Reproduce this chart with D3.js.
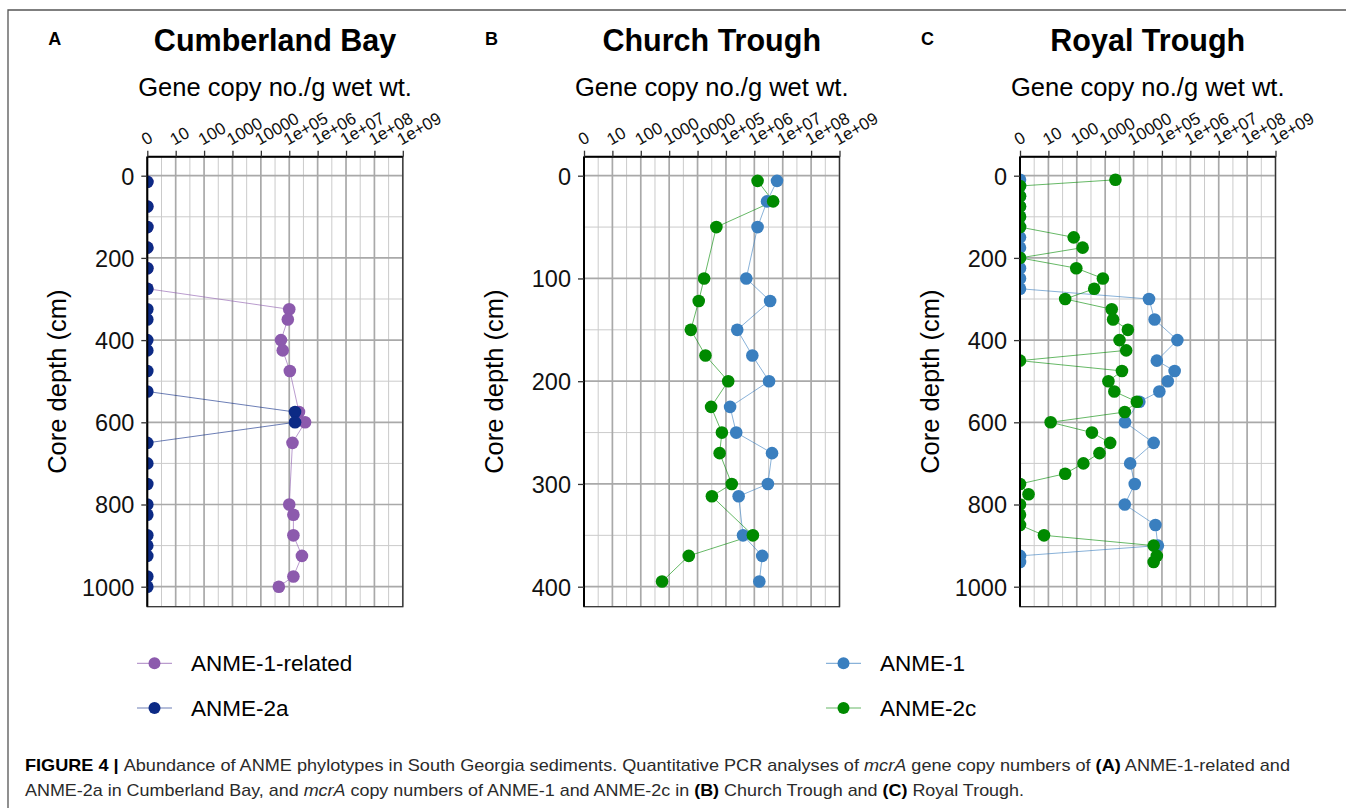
<!DOCTYPE html>
<html><head><meta charset="utf-8">
<script src="https://cdn.jsdelivr.net/npm/d3@7"></script>
<style>
body{margin:0;background:#fff}
svg{display:block}
text{font-family:"Liberation Sans",Arial,Helvetica,sans-serif}
</style>
</head><body>
<svg id="chart" width="1346" height="808"></svg>
<script>
// ---------- data ----------
const panelLetters = ["A", "B", "C"];
const panelTitles = ["Cumberland Bay", "Church Trough", "Royal Trough"];
const xAxisTitle = "Gene copy no./g wet wt.";
const yAxisTitle = "Core depth (cm)";
const xTickLabels = ["0","10","100","1000","10000","1e+05","1e+06","1e+07","1e+08","1e+09"];
const yTicksAC = [0, 200, 400, 600, 800, 1000];
const yTicksB = [0, 100, 200, 300, 400];

// Panel A – Cumberland Bay
const depthA1 = [15,75,125,175,225,275,325,350,400,425,475,575,600,650,800,825,875,925,975,1000];
const copiesA1 = [0,0,0,0,0,0,1.0e5,8.9e4,5.1e4,5.9e4,1.05e5,2.2e5,3.6e5,1.3e5,1.0e5,1.4e5,1.4e5,2.8e5,1.4e5,4.3e4];
const depthA2 = [15,75,125,175,225,275,325,350,400,425,475,525,575,600,650,700,750,800,825,875,900,925,975,1000];
const copiesA2 = [0,0,0,0,0,0,0,0,0,0,0,0,1.6e5,1.6e5,0,0,0,0,0,0,0,0,0,0];

// Panel B – Church Trough
const depthB = [5,25,50,100,122,150,175,200,225,250,270,300,312,350,370,395];
const copiesB1 = [6.3e6,2.8e6,1.3e6,5.2e5,3.6e6,2.5e5,8.5e5,3.3e6,1.4e5,2.3e5,4.2e6,3.0e6,2.8e5,4.0e5,1.9e6,1.5e6];
const copiesB2 = [1.3e6,4.6e6,4.6e4,1.7e4,1.1e4,5.8e3,1.9e4,1.2e5,3.0e4,7.2e4,6.0e4,1.6e5,3.2e4,8.9e5,4.9e3,5.6e2];

// Panel C – Royal Trough
const depthC1 = [10,25,50,75,100,125,150,175,200,225,250,275,300,350,400,450,475,500,525,550,600,650,700,750,800,850,900,925,940];
const copiesC1 = [0,0,0,0,0,0,0,0,0,0,0,0,3.5e4,5.5e4,3.5e5,6.6e4,2.8e5,1.6e5,8.1e4,1.6e4,5.0e3,5.1e4,7.6e3,1.1e4,4.9e3,5.9e4,7.2e4,0,0];
const depthC2 = [10,25,50,75,100,125,150,175,200,225,250,275,300,325,350,375,400,425,450,475,500,525,550,575,600,625,650,675,700,725,750,775,800,825,850,875,900,925,940];
const copiesC2 = [2.3e3,0,0,0,0,0,77,160,0,95,830,410,38,1.7e3,1.9e3,6.3e3,3.2e3,5.5e3,0,3.9e3,1.3e3,2.1e3,1.3e4,4.9e3,11,340,1.5e3,630,170,38,0,1,0,0,0,6,5.1e4,6.6e4,5.1e4];

const seriesNamesA = ["ANME-1-related", "ANME-2a"];
const seriesNamesBC = ["ANME-1", "ANME-2c"];

// ---------- styles ----------
const COL = {
  "ANME-1-related": "#8c5aad",
  "ANME-2a": "#0c2a85",
  "ANME-1": "#3a7fbf",
  "ANME-2c": "#008a00"
};

const svg = d3.select("#chart");
const zip = (ds, cs) => ds.map((d, i) => ({d: d, c: cs[i]}));
const tx = v => Math.log10(v + 1);

const panels = [
  {left: 147.3, yMax: 1000, yTicks: yTicksAC,
   series: [{name: seriesNamesA[0], pts: zip(depthA1, copiesA1)}, {name: seriesNamesA[1], pts: zip(depthA2, copiesA2)}]},
  {left: 584, yMax: 400, yTicks: yTicksB,
   series: [{name: seriesNamesBC[0], pts: zip(depthB, copiesB1)}, {name: seriesNamesBC[1], pts: zip(depthB, copiesB2)}]},
  {left: 1020, yMax: 1000, yTicks: yTicksAC,
   series: [{name: seriesNamesBC[0], pts: zip(depthC1, copiesC1)}, {name: seriesNamesBC[1], pts: zip(depthC2, copiesC2)}]}
];

const W = 255.5, TOP = 156.7, BOT = 606.7, Y0 = 175.7, Y1 = 586.7;

// figure frame
svg.append("path").attr("d", "M8,808 L8,10 L1346,10").attr("fill", "none").attr("stroke", "#555").attr("stroke-width", 1.3);

panels.forEach((p, pi) => {
  const g = svg.append("g");
  const x = d3.scaleLinear().domain([0, 9]).range([p.left, p.left + W]);
  const y = d3.scaleLinear().domain([0, p.yMax]).range([Y0, Y1]);
  const step = p.yTicks[1] - p.yTicks[0];
  const ymin = y.invert(TOP), ymaxv = y.invert(BOT);

  g.append("rect").attr("x", p.left).attr("y", TOP).attr("width", W).attr("height", BOT - TOP).attr("fill", "#fff");

  // minor grid
  const minorX = d3.range(0.5, 9, 1);
  const minorY = d3.range(-step / 2, ymaxv, step).filter(v => v > ymin && v < ymaxv);
  g.selectAll(".mx").data(minorX).join("line")
    .attr("x1", d => x(d)).attr("x2", d => x(d)).attr("y1", TOP).attr("y2", BOT)
    .attr("stroke", "#cbcbcb").attr("stroke-width", 1);
  g.selectAll(".my").data(minorY).join("line")
    .attr("y1", d => y(d)).attr("y2", d => y(d)).attr("x1", p.left).attr("x2", p.left + W)
    .attr("stroke", "#cbcbcb").attr("stroke-width", 1);
  // major grid
  g.selectAll(".Mx").data(d3.range(0, 10)).join("line")
    .attr("x1", d => x(d)).attr("x2", d => x(d)).attr("y1", TOP).attr("y2", BOT)
    .attr("stroke", "#a9a9a9").attr("stroke-width", 1.7);
  g.selectAll(".My").data(p.yTicks).join("line")
    .attr("y1", d => y(d)).attr("y2", d => y(d)).attr("x1", p.left).attr("x2", p.left + W)
    .attr("stroke", "#a9a9a9").attr("stroke-width", 1.7);

  // clip
  const cid = "clip" + pi;
  svg.append("clipPath").attr("id", cid).append("rect")
    .attr("x", p.left).attr("y", TOP).attr("width", W).attr("height", BOT - TOP);
  const data = g.append("g").attr("clip-path", "url(#" + cid + ")");

  const line = d3.line().x(d => x(tx(d.c))).y(d => y(d.d));
  p.series.forEach(s => {
    data.append("path").datum(s.pts).attr("d", line)
      .attr("fill", "none").attr("stroke", COL[s.name]).attr("stroke-opacity", 0.6).attr("stroke-width", 1);
  });
  p.series.forEach(s => {
    data.selectAll(null).data(s.pts).join("circle")
      .attr("cx", d => x(tx(d.c))).attr("cy", d => y(d.d)).attr("r", 6.3)
      .attr("fill", COL[s.name]);
  });

  // border
  g.append("rect").attr("x", p.left).attr("y", TOP).attr("width", W).attr("height", BOT - TOP)
    .attr("fill", "none").attr("stroke", "#333").attr("stroke-width", 1.3);
  g.append("line").attr("x1", p.left).attr("x2", p.left).attr("y1", TOP).attr("y2", BOT)
    .attr("stroke", "#000").attr("stroke-width", 2);
  g.append("line").attr("x1", p.left).attr("x2", p.left + W).attr("y1", TOP).attr("y2", TOP)
    .attr("stroke", "#000").attr("stroke-width", 2);

  // top axis
  const ax = g.append("g").attr("transform", `translate(0,${TOP})`)
    .call(d3.axisTop(x).tickValues(d3.range(0, 10)).tickSize(6).tickSizeOuter(0)
      .tickFormat((d, i) => xTickLabels[i]));
  ax.select(".domain").remove();
  ax.selectAll(".tick line").attr("stroke", "#333").attr("stroke-width", 1.3);
  ax.selectAll(".tick text").attr("y", 0).attr("dy", 0)
    .attr("text-anchor", "start").attr("fill", "#111")
    .attr("transform", "translate(-2,-11) rotate(-30)")
    .style("font-size", "17px").style("font-family", '"Liberation Sans",Arial,sans-serif');

  // left axis
  const ay = g.append("g").attr("transform", `translate(${p.left},0)`)
    .call(d3.axisLeft(y).tickValues(p.yTicks).tickFormat(d3.format("d")).tickSize(6).tickSizeOuter(0).tickPadding(7));
  ay.select(".domain").remove();
  ay.selectAll(".tick line").attr("stroke", "#333").attr("stroke-width", 1.3);
  ay.selectAll(".tick text").attr("fill", "#111").attr("dy", "0.36em")
    .style("font-size", "23.5px").style("font-family", '"Liberation Sans",Arial,sans-serif');

  // titles
  const cx = p.left + W / 2;
  g.append("text").attr("x", cx).attr("y", 51).attr("text-anchor", "middle")
    .style("font-size", "30.5px").style("font-weight", "bold").attr("fill", "#000").text(panelTitles[pi]);
  g.append("text").attr("x", cx).attr("y", 96).attr("text-anchor", "middle")
    .style("font-size", "25.5px").attr("fill", "#000").text(xAxisTitle);
  g.append("text").attr("transform", `translate(${p.left - 81},${(TOP + BOT) / 2}) rotate(-90)`)
    .attr("text-anchor", "middle").style("font-size", "25.5px").attr("fill", "#000").text(yAxisTitle);
  g.append("text").attr("x", p.left - 99).attr("y", 45).attr("text-anchor", "start")
    .style("font-size", "18px").style("font-weight", "bold").attr("fill", "#000").text(panelLetters[pi]);
});

// legends
function legend(x0, names, ys) {
  names.forEach((n, i) => {
    const g = svg.append("g");
    g.append("line").attr("x1", x0).attr("x2", x0 + 35).attr("y1", ys[i]).attr("y2", ys[i])
      .attr("stroke", COL[n]).attr("stroke-opacity", 0.6).attr("stroke-width", 1.2);
    g.append("circle").attr("cx", x0 + 17.5).attr("cy", ys[i]).attr("r", 6).attr("fill", COL[n]);
    g.append("text").attr("x", x0 + 54).attr("y", ys[i] + 8).style("font-size", "22.5px").attr("fill", "#000").text(n);
  });
}
legend(137, seriesNamesA, [663.3, 708]);
legend(826, seriesNamesBC, [663.3, 708]);

// caption
const cap1 = svg.append("text").attr("x", 25).attr("y", 771).attr("fill", "#2a2a2a")
  .style("font-size", "17px").attr("textLength", 1265).attr("lengthAdjust", "spacingAndGlyphs");
cap1.append("tspan").style("font-weight", "bold").attr("fill", "#000").text("FIGURE 4 | ");
cap1.append("tspan").text("Abundance of ANME phylotypes in South Georgia sediments. Quantitative PCR analyses of ");
cap1.append("tspan").style("font-style", "italic").text("mcrA");
cap1.append("tspan").text(" gene copy numbers of ");
cap1.append("tspan").style("font-weight", "bold").attr("fill", "#000").text("(A)");
cap1.append("tspan").text(" ANME-1-related and");

const cap2 = svg.append("text").attr("x", 25).attr("y", 796).attr("fill", "#2a2a2a")
  .style("font-size", "17px").attr("textLength", 999).attr("lengthAdjust", "spacingAndGlyphs");
cap2.append("tspan").text("ANME-2a in Cumberland Bay, and ");
cap2.append("tspan").style("font-style", "italic").text("mcrA");
cap2.append("tspan").text(" copy numbers of ANME-1 and ANME-2c in ");
cap2.append("tspan").style("font-weight", "bold").attr("fill", "#000").text("(B)");
cap2.append("tspan").text(" Church Trough and ");
cap2.append("tspan").style("font-weight", "bold").attr("fill", "#000").text("(C)");
cap2.append("tspan").text(" Royal Trough.");
</script>
</body></html>
